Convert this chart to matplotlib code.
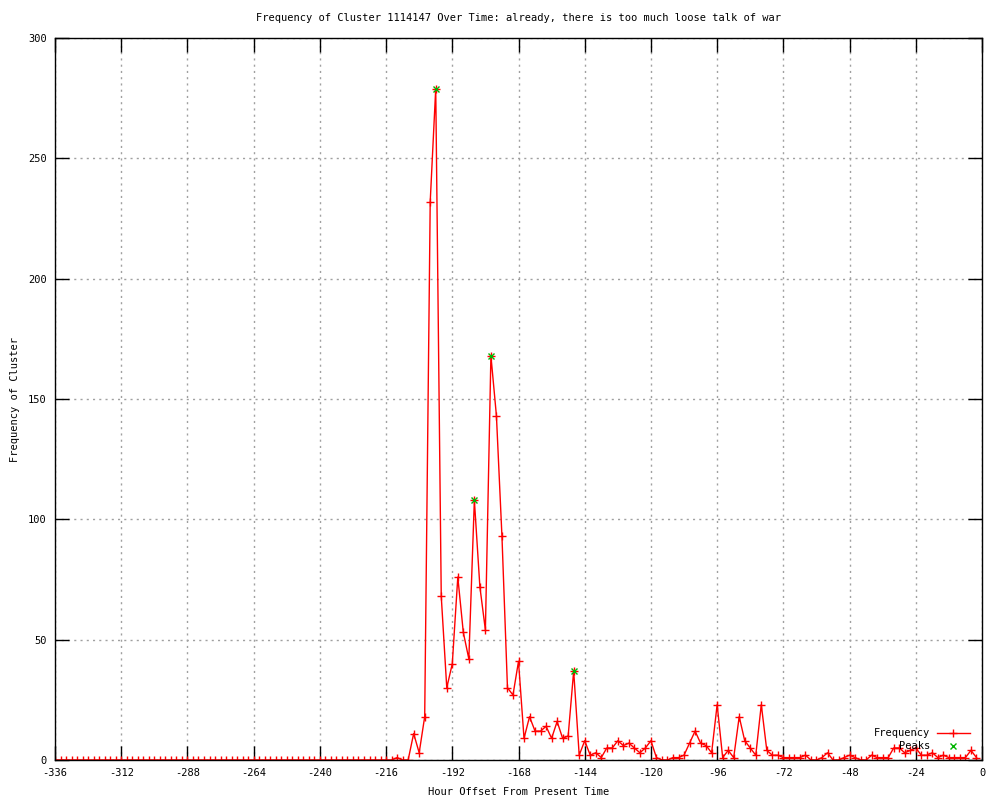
import matplotlib
matplotlib.use("Agg")
import matplotlib.pyplot as plt
import numpy as np

plt.rcParams["font.family"] = "DejaVu Sans Mono"
plt.rcParams["axes.unicode_minus"] = False

# hour offsets, every 2 hours
hours = np.arange(-336, 0, 2)

# frequency per hour slot (zeros before -212)
freq_tail = [
    1, 0, 0, 11, 3, 18, 232, 279, 68, 30,
    40, 76, 53, 42, 108, 72, 54, 168, 143, 93,
    30, 27, 41, 9, 18, 12, 12, 14, 9, 16,
    9, 10, 37, 2, 8, 2, 3, 1, 5, 5,
    8, 6, 7, 5, 3, 5, 8, 1, 0, 0,
    1, 1, 2, 7, 12, 7, 6, 3, 23, 1,
    4, 1, 18, 8, 5, 2, 23, 4, 2, 2,
    1, 1, 1, 1, 2, 0, 0, 1, 3, 0,
    0, 1, 2, 1, 0, 0, 2, 1, 1, 1,
    5, 5, 3, 4, 5, 2, 2, 3, 1, 2,
    1, 1, 1, 1, 4, 1,
]
frequency = [0] * (len(hours) - len(freq_tail)) + freq_tail

peak_hours = [-198, -184, -178, -148]
peak_values = [279, 108, 168, 37]

title = "Frequency of Cluster 1114147 Over Time: already, there is too much loose talk of war"
fs = 7.5

fig = plt.figure(figsize=(10, 8), dpi=100)
ax = fig.add_axes([0.055, 0.05, 0.927, 0.9025])

ax.plot(hours, frequency, color="red", lw=1, marker="+", ms=6, mew=1)
ax.plot(peak_hours, peak_values, ls="none", color="#00b400", marker="x", ms=5, mew=1)

ax.set_xlim(-336, 0)
ax.set_ylim(0, 300)
ax.set_xticks(np.arange(-336, 1, 24))
ax.set_yticks(np.arange(0, 301, 50))
ax.tick_params(direction="in", length=10, width=1, top=True, right=True,
               labelsize=fs, pad=6, colors="black")
ax.grid(True, color="#a0a0a0", ls=(0, (1.5, 3)), lw=1)
for s in ax.spines.values():
    s.set_linewidth(1)

ax.set_title(title, fontsize=fs, pad=12)
ax.set_xlabel("Hour Offset From Present Time", fontsize=fs, labelpad=6)
ax.set_ylabel("Frequency of Cluster", fontsize=fs)
ax.yaxis.set_label_coords(-0.038, 0.5)

# gnuplot-style key: text right-aligned, sample after it
ax.text(0.944, 0.0374, "Frequency", transform=ax.transAxes, ha="right",
        va="center", fontsize=fs)
ax.plot([0.951, 0.987], [0.0374, 0.0374], transform=ax.transAxes, color="red",
        lw=1, clip_on=False)
ax.plot([0.969], [0.0374], transform=ax.transAxes, color="red", marker="+",
        ms=6, mew=1, clip_on=False)
ax.text(0.944, 0.0194, "Peaks", transform=ax.transAxes, ha="right",
        va="center", fontsize=fs)
ax.plot([0.969], [0.0194], transform=ax.transAxes, color="#00b400", marker="x",
        ms=5, mew=1, clip_on=False)

fig.savefig("out.png", dpi=100)
